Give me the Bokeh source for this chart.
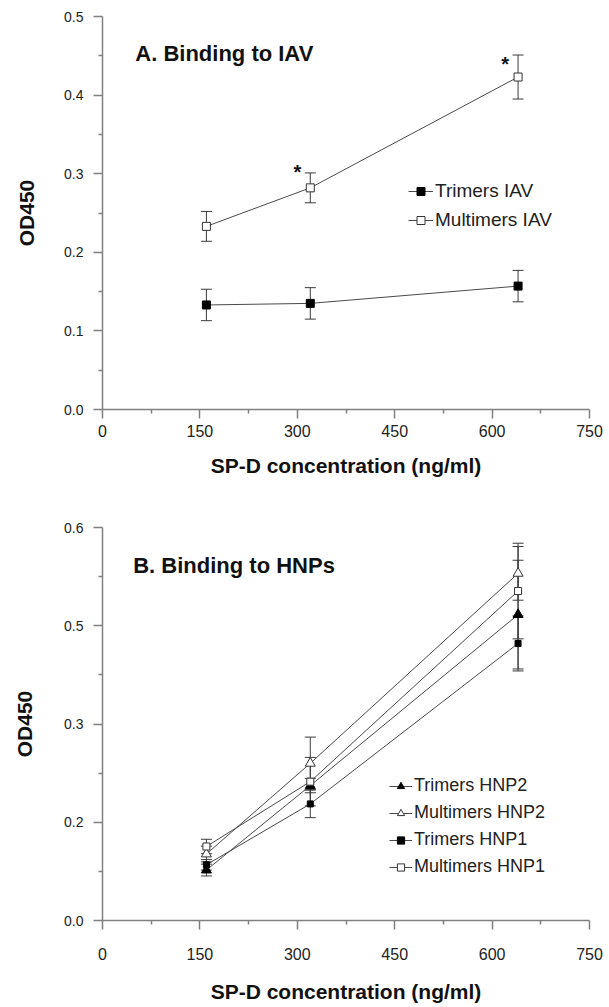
from bokeh.plotting import figure
from bokeh.layouts import column
from bokeh.models import (FixedTicker, Whisker, ColumnDataSource, Legend, LegendItem,
                          Label, TeeHead, Range1d)
from bokeh.embed import file_html
from bokeh.resources import INLINE
from bokeh.core.properties import value

# ---------------- data ----------------
conc = [160, 320, 640]

# Panel A: binding to IAV
tri_iav = [0.133, 0.135, 0.157]
tri_iav_err = [0.020, 0.020, 0.020]
mul_iav = [0.233, 0.282, 0.423]
mul_iav_err = [0.019, 0.019, 0.028]
star_x = [300, 620]
star_y = [0.309, 0.446]

# Panel B: binding to HNPs
tri_hnp2 = [0.077, 0.206, 0.467]
tri_hnp2_err = [0.009, 0.011, 0.083]
mul_hnp2 = [0.1015, 0.240, 0.530]
mul_hnp2_err = [0.012, 0.040, 0.041]
tri_hnp1 = [0.085, 0.178, 0.423]
tri_hnp1_err = [0.008, 0.021, 0.042]
mul_hnp1 = [0.113, 0.212, 0.503]
mul_hnp1_err = [0.011, 0.037, 0.073]

x_ticks = [0, 150, 300, 450, 600, 750]
x_minor = [75, 225, 375, 525, 675]
yA_ticks = [0.0, 0.1, 0.2, 0.3, 0.4, 0.5]
yA_minor = [0.05, 0.15, 0.25, 0.35, 0.45]
yA_labels = ["0.0", "0.1", "0.2", "0.3", "0.4", "0.5"]
yB_ticks = [0.0, 0.15, 0.3, 0.45, 0.6]
yB_minor = [0.075, 0.225, 0.375, 0.525]
yB_labels = ["0.0", "0.2", "0.3", "0.5", "0.6"]

FONT = "Liberation Sans"
AX = "#808080"
LINE = "#4a4a4a"
ERR = "#3a3a3a"


def make_fig(height, left, right, top, bottom, y_end, yticks, yminor, ylabels,
             xstand, xlab_stand, ystand, ylab_stand):
    p = figure(width=609, height=height, x_range=Range1d(0, 750), y_range=Range1d(0, y_end),
               output_backend="svg", toolbar_location=None,
               min_border_left=left, min_border_right=right,
               min_border_top=top, min_border_bottom=bottom,
               x_axis_label="SP-D concentration (ng/ml)", y_axis_label="OD450")
    p.grid.visible = False
    p.outline_line_color = None
    p.xaxis.ticker = FixedTicker(ticks=x_ticks, minor_ticks=x_minor)
    p.yaxis.ticker = FixedTicker(ticks=yticks, minor_ticks=yminor)
    p.yaxis.major_label_overrides = {t: l for t, l in zip(yticks, ylabels)}
    for ax in p.axis:
        ax.axis_line_color = AX
        ax.axis_line_width = 1.5
        ax.major_tick_line_color = AX
        ax.major_tick_line_width = 1.5
        ax.minor_tick_line_color = AX
        ax.minor_tick_line_width = 1.5
        ax.major_tick_in = 0
        ax.major_tick_out = 9
        ax.minor_tick_in = 0
        ax.minor_tick_out = 4
        ax.major_label_text_font = FONT
        ax.major_label_text_color = "#222222"
        ax.axis_label_text_font = FONT
        ax.axis_label_text_font_style = "bold"
        ax.axis_label_text_font_size = "21px"
        ax.axis_label_text_color = "#111111"
    p.xaxis.major_label_text_font_size = "16px"
    p.yaxis.major_label_text_font_size = "14px"
    p.xaxis.major_label_standoff = xstand
    p.xaxis.axis_label_standoff = xlab_stand
    p.yaxis.major_label_standoff = ystand
    p.yaxis.axis_label_standoff = ylab_stand
    return p


def series(p, ys, errs, marker, filled, size):
    src = ColumnDataSource(dict(x=conc, y=ys,
                                upper=[v + e for v, e in zip(ys, errs)],
                                lower=[v - e for v, e in zip(ys, errs)]))
    w = Whisker(source=src, base="x", upper="upper", lower="lower",
                line_color=ERR, line_width=1,
                upper_head=TeeHead(size=11, line_color=ERR, line_width=1),
                lower_head=TeeHead(size=11, line_color=ERR, line_width=1))
    p.add_layout(w)
    ln = p.line("x", "y", source=src, line_color=LINE, line_width=1)
    sc = p.scatter("x", "y", source=src, marker=marker, size=size,
                   fill_color="black" if filled else "white",
                   line_color="black" if filled else "#333333", line_width=1)
    return [ln, sc]


# ---------------- panel A ----------------
pA = make_fig(508, 99, 20, 16, 99, 0.5, yA_ticks, yA_minor, yA_labels,
              xstand=6, xlab_stand=14, ystand=10, ylab_stand=23)
rA1 = series(pA, tri_iav, tri_iav_err, "square", True, 8)
rA2 = series(pA, mul_iav, mul_iav_err, "square", False, 8)
pA.text(x=star_x, y=star_y, text=["*", "*"], text_font=value(FONT),
        text_font_style="bold", text_font_size=value("20px"),
        text_align="center", text_baseline="middle", y_offset=5, text_color="#111111")
pA.add_layout(Label(x=50.5, y=0.4524, text="A. Binding to IAV", text_font=FONT,
                    text_font_style="bold", text_font_size="22px",
                    text_baseline="alphabetic", text_color="#111111"))
legA = Legend(items=[LegendItem(label="Trimers IAV", renderers=rA1),
                     LegendItem(label="Multimers IAV", renderers=rA2)],
              location=(306, 178), border_line_color=None, background_fill_alpha=0,
              padding=0, margin=0, spacing=7, glyph_width=25, glyph_height=20,
              label_height=20, label_standoff=2, label_text_font=FONT,
              label_text_font_size="19px", label_text_color="#222222")
pA.add_layout(legA)

# ---------------- panel B ----------------
pB = make_fig(499, 102, 15, 19, 87, 0.6, yB_ticks, yB_minor, yB_labels,
              xstand=18, xlab_stand=17, ystand=10, ylab_stand=25)
rB1 = series(pB, tri_hnp2, tri_hnp2_err, "triangle", True, 10)
rB2 = series(pB, mul_hnp2, mul_hnp2_err, "triangle", False, 10)
rB3 = series(pB, tri_hnp1, tri_hnp1_err, "square", True, 6)
rB4 = series(pB, mul_hnp1, mul_hnp1_err, "square", False, 7)
pB.add_layout(Label(x=47.3, y=0.5424, text="B. Binding to HNPs", text_font=FONT,
                    text_font_style="bold", text_font_size="22px",
                    text_baseline="alphabetic", text_color="#111111"))
legB = Legend(items=[LegendItem(label="Trimers HNP2", renderers=rB1),
                     LegendItem(label="Multimers HNP2", renderers=rB2),
                     LegendItem(label="Trimers HNP1", renderers=rB3),
                     LegendItem(label="Multimers HNP1", renderers=rB4)],
              location=(287, 43), border_line_color=None, background_fill_alpha=0,
              padding=0, margin=0, spacing=6, glyph_width=23, glyph_height=18,
              label_height=18, label_standoff=2, label_text_font=FONT,
              label_text_font_size="18px", label_text_color="#222222")
pB.add_layout(legB)

layout = column(pA, pB, spacing=0)
open("out.html", "w").write(file_html(layout, INLINE))
